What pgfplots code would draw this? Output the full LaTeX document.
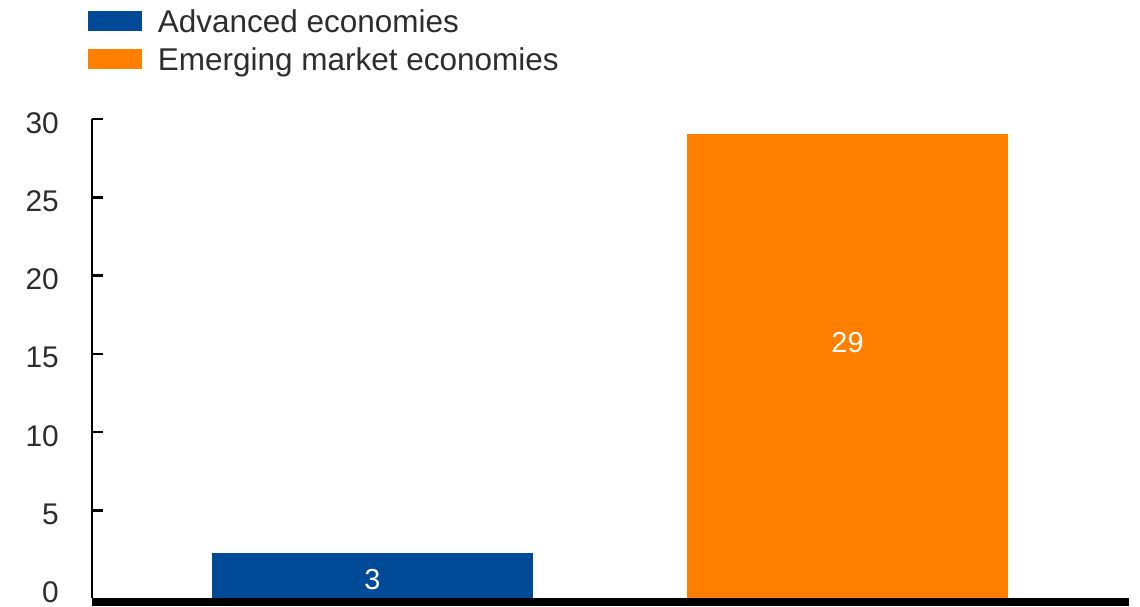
\documentclass[border=0pt]{standalone}
\usepackage{fontspec}
\setmainfont{Liberation Sans}
\usepackage{pgfplots}
\pgfplotsset{compat=1.18}
\definecolor{advblue}{RGB}{0,74,152}
\definecolor{emorange}{RGB}{255,128,0}
\definecolor{txt}{RGB}{45,45,45}
\begin{document}
\begin{tikzpicture}
\path[use as bounding box] (-92bp,-9bp) rectangle (1048bp,598bp);
\begin{axis}[
  at={(0,0)}, anchor=south west,
  scale only axis, width=1037bp, height=479bp,
  xmin=-0.5905, xmax=1.5926, ymin=-0.6, ymax=30,
  axis x line=bottom, axis y line=left,
  x axis line style={-, line width=8bp, yshift=-4bp},
  y axis line style={-, line width=2.5bp},
  axis on top,
  xtick=\empty,
  ytick={5,10,...,30},
  extra y ticks={0},
  extra y tick style={major tick length=0pt},
  ytick style={line width=2.5bp, black},
  major tick length=11bp,
  tick align=inside,
  yticklabel style={font=\fontsize{30}{36}\selectfont, text=txt, inner sep=0pt, xshift=-33bp, yshift=-4bp},
  /pgf/number format/assume math mode=true,
  clip=false,
  legend image code/.code={\fill[#1] (0bp,-6bp) rectangle (54bp,14bp); \path (70bp,0bp);},
  legend style={draw=none, fill=none, inner sep=0pt, outer sep=0pt,
    at={(-0.0039,1.2276)}, anchor=north west,
    font=\fontsize{31.6}{38}\selectfont, text=txt,
    nodes={inner sep=0pt, text height=23bp, text depth=7bp},
    row sep=8bp},
  legend cell align=left,
]
% Advanced economies: value 3 (bar drawn from the baseline)
\addplot[fill=advblue, draw=none] coordinates {(-0.338,-0.6) (-0.338,2.3) (0.338,2.3) (0.338,-0.6)} -- cycle;
\addlegendentry{Advanced economies}
% Emerging market economies: value 29
\addplot[fill=emorange, draw=none] coordinates {(0.662,-0.6) (0.662,29.05) (1.338,29.05) (1.338,-0.6)} -- cycle;
\addlegendentry{Emerging market economies}
\node[text=white, font=\fontsize{29}{35}\selectfont] at (axis cs:0,0.55) {3};
\node[text=white, font=\fontsize{29}{35}\selectfont] at (axis cs:1,15.7) {29};
\end{axis}
\end{tikzpicture}
\end{document}
